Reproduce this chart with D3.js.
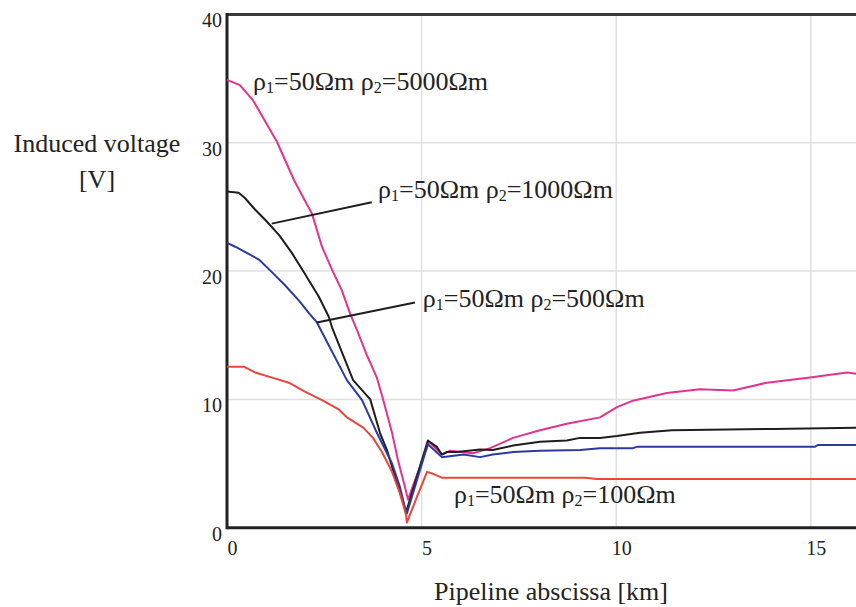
<!DOCTYPE html>
<html>
<head>
<meta charset="utf-8">
<script src="https://cdn.jsdelivr.net/npm/d3@7"></script>
<style>
  html, body { margin: 0; padding: 0; background: #fff; }
  svg { display: block; }
  text { font-family: "Liberation Serif", "Times New Roman", serif; fill: #222; }
</style>
</head>
<body>
<svg id="chart" width="856" height="607"></svg>
<script>
// ---- data (km, V) ----
const xTicks = [0, 5, 10, 15];
const yTicks = [0, 10, 20, 30, 40];

const km5000 = [0.00,0.33,0.67,1.28,1.72,2.00,2.18,2.44,2.70,2.95,3.16,3.34,3.60,3.85,4.01,4.24,4.39,4.57,4.65,5.19,5.52,5.73,6.32,6.76,7.35,8.04,8.73,9.58,10.02,10.43,11.30,12.15,13.00,13.87,14.98,15.93,16.16];
const v5000  = [34.9,34.5,33.3,30.1,27.1,25.5,24.5,21.9,20.1,18.5,16.7,15.4,13.4,11.7,10.0,7.4,5.3,3.2,2.2,6.7,5.7,6.0,5.8,6.2,7.0,7.6,8.1,8.6,9.4,9.9,10.5,10.8,10.7,11.3,11.7,12.1,12.0];

const km1000 = [0.00,0.30,0.46,0.72,0.98,1.34,1.67,2.00,2.36,2.62,2.70,3.24,3.68,3.93,4.11,4.32,4.50,4.60,5.16,5.39,5.52,5.65,5.91,6.50,6.83,7.35,8.04,8.73,9.07,9.58,10.02,10.61,11.43,14.03,16.16];
const v1000  = [26.2,26.1,25.7,24.8,24.0,22.8,21.4,19.8,18.0,16.4,15.6,11.5,10.0,7.4,6.05,3.95,2.2,1.2,6.8,6.3,5.7,5.9,5.9,6.1,6.05,6.4,6.7,6.8,7.0,7.0,7.15,7.4,7.6,7.7,7.8];

const km500 = [0.00,0.21,0.46,0.82,1.16,1.49,1.85,2.11,2.31,3.08,3.47,3.82,3.98,4.24,4.44,4.57,4.62,5.16,5.52,6.08,6.50,6.83,7.35,8.04,9.07,9.58,10.43,10.53,15.10,15.19,16.16];
const v500  = [22.2,21.9,21.5,20.9,19.9,18.9,17.7,16.7,16.0,11.5,9.95,7.6,6.6,5.0,3.2,1.6,1.1,6.5,5.5,5.7,5.5,5.7,5.9,6.0,6.05,6.2,6.2,6.3,6.3,6.45,6.45];

const km100 = [0.00,0.43,0.72,1.16,1.59,2.00,2.44,2.88,3.08,3.50,3.75,3.98,4.24,4.44,4.60,4.62,4.88,5.14,5.29,5.52,6.00,9.20,9.50,16.16];
const v100  = [12.55,12.55,12.1,11.7,11.3,10.6,9.95,9.2,8.6,7.8,7.0,5.9,4.35,2.7,1.0,0.4,2.4,4.35,4.2,3.9,3.9,3.9,3.8,3.8];

const seriesNames  = ["5000", "1000", "500", "100"];
const seriesColors = ["#e2348e", "#1e1e1e", "#2b3b9c", "#e8463c"];

// label anchors (km, V) and leader lines
const labelRho2 = ["5000", "1000", "500", "100"];
const labelKm   = [0.67, 3.88, 5.03, 5.83];
const labelV    = [34.1, 25.7, 17.2, 1.93];
const leaderFrom = [null, [3.72, 25.37], [4.83, 17.55], null];
const leaderTo   = [null, [1.15, 23.7], [2.31, 16.0], null];

// ---- layout ----
const svg = d3.select("#chart");
const x = d3.scaleLinear().domain([0, 16.16]).range([227, 856]);
const y = d3.scaleLinear().domain([0, 40]).range([527.7, 14.5]);

// grid
svg.append("g").selectAll("line").data(xTicks.filter(d => d > 0)).join("line")
  .attr("x1", d => x(d)).attr("x2", d => x(d))
  .attr("y1", y(40)).attr("y2", y(0))
  .attr("stroke", "#e0e0e0").attr("stroke-width", 1.5);
svg.append("g").selectAll("line").data(yTicks.filter(d => d > 0 && d < 40)).join("line")
  .attr("x1", x(0)).attr("x2", 856)
  .attr("y1", d => y(d)).attr("y2", d => y(d))
  .attr("stroke", "#e0e0e0").attr("stroke-width", 1.5);

// axes (labels only)
const xAxis = svg.append("g").attr("transform", `translate(0,${y(0)})`)
  .call(d3.axisBottom(x).tickValues(xTicks).tickSize(0).tickPadding(0).tickFormat(d3.format("d")));
xAxis.select(".domain").remove();
xAxis.selectAll("text").attr("font-size", 20).attr("dx", 5).attr("dy", 27)
  .style("font-family", '"Liberation Serif", serif').attr("fill", "#222");

const yAxis = svg.append("g").attr("transform", `translate(${x(0)},0)`)
  .call(d3.axisLeft(y).tickValues(yTicks).tickSize(0).tickPadding(5).tickFormat(d3.format("d")));
yAxis.select(".domain").remove();
yAxis.selectAll("text").attr("font-size", 20).attr("dy", "0.62em")
  .style("font-family", '"Liberation Serif", serif').attr("fill", "#222");

// frame
svg.append("line").attr("x1", x(0)).attr("x2", 856).attr("y1", y(40)).attr("y2", y(40))
  .attr("stroke", "#3a3a3a").attr("stroke-width", 3);
svg.append("line").attr("x1", x(0)).attr("x2", 856).attr("y1", y(0)).attr("y2", y(0))
  .attr("stroke", "#222").attr("stroke-width", 3);
svg.append("line").attr("x1", x(0)).attr("x2", x(0)).attr("y1", y(40) - 1.5).attr("y2", y(0) + 1.5)
  .attr("stroke", "#222").attr("stroke-width", 3);

// curves
const allKm = [km5000, km1000, km500, km100];
const allV = [v5000, v1000, v500, v100];
const line = d3.line().x(d => x(d[0])).y(d => y(d[1]));
seriesNames.forEach((name, i) => {
  const pts = allKm[i].map((k, j) => [k, allV[i][j]]);
  svg.append("path").datum(pts).attr("d", line)
    .attr("fill", "none").attr("stroke", seriesColors[i]).attr("stroke-width", 2)
    .attr("stroke-linejoin", "round");
});

// leaders
leaderFrom.forEach((f, i) => {
  if (!f) return;
  svg.append("line")
    .attr("x1", x(f[0])).attr("y1", y(f[1]))
    .attr("x2", x(leaderTo[i][0])).attr("y2", y(leaderTo[i][1]))
    .attr("stroke", "#1e1e1e").attr("stroke-width", 2);
});

// curve labels
labelRho2.forEach((r2, i) => {
  const t = svg.append("text").attr("x", x(labelKm[i])).attr("y", y(labelV[i]))
    .attr("font-size", 26);
  t.append("tspan").text("ρ");
  t.append("tspan").attr("font-size", 16).attr("dy", 3).text("1");
  t.append("tspan").attr("dy", -3).text("=50Ωm ρ");
  t.append("tspan").attr("font-size", 16).attr("dy", 3).text("2");
  t.append("tspan").attr("dy", -3).text("=" + r2 + "Ωm");
});

// axis titles
svg.append("text").attr("x", 97).attr("y", 152).attr("text-anchor", "middle")
  .attr("font-size", 26).text("Induced voltage");
svg.append("text").attr("x", 97).attr("y", 188).attr("text-anchor", "middle")
  .attr("font-size", 26).text("[V]");
svg.append("text").attr("x", 551).attr("y", 600).attr("text-anchor", "middle")
  .attr("font-size", 26).text("Pipeline abscissa [km]");
</script>
</body>
</html>
